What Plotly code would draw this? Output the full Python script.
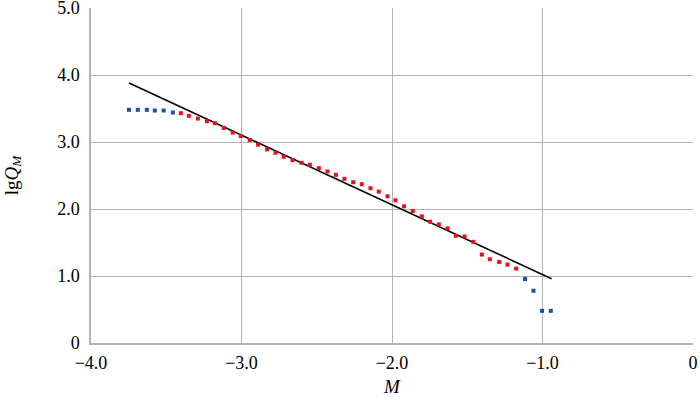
import plotly.graph_objects as go

# Blue points (excluded from fit) - low-magnitude plateau
blue_low_x = [-3.748, -3.689, -3.629, -3.576, -3.517, -3.456]
blue_low_y = [3.48, 3.48, 3.48, 3.47, 3.47, 3.44]

# Red points (fit range)
red_x = [-3.403, -3.350, -3.290, -3.230, -3.177, -3.118, -3.058, -3.005, -2.945, -2.890,
         -2.830, -2.774, -2.719, -2.661, -2.601, -2.546, -2.486, -2.429, -2.373, -2.316,
         -2.258, -2.201, -2.143, -2.088, -2.030, -1.977, -1.920, -1.862, -1.802, -1.747,
         -1.689, -1.631, -1.576, -1.518, -1.461, -1.403, -1.350, -1.288, -1.233, -1.175]
red_y = [3.43, 3.39, 3.35, 3.31, 3.28, 3.21, 3.14, 3.09, 3.03, 2.96,
         2.89, 2.84, 2.78, 2.73, 2.69, 2.66, 2.61, 2.56, 2.51, 2.45,
         2.40, 2.37, 2.31, 2.26, 2.19, 2.13, 2.04, 1.97, 1.89, 1.81,
         1.77, 1.71, 1.60, 1.59, 1.51, 1.32, 1.25, 1.21, 1.17, 1.11]

# Blue points at high magnitude end
blue_high_x = [-1.116, -1.060, -1.003, -0.945]
blue_high_y = [0.955, 0.78, 0.48, 0.48]

# Fitted line endpoints
fit_x = [-3.747, -0.940]
fit_y = [3.88, 0.96]

x_tickvals = [-4, -3, -2, -1, 0]
x_ticktext = ["\u22124.0", "\u22123.0", "\u22122.0", "\u22121.0", "0"]
y_tickvals = [0, 1, 2, 3, 4, 5]
y_ticktext = ["0", "1.0", "2.0", "3.0", "4.0", "5.0"]

RED = "#e8101e"
BLUE = "#1f4ea3"
GRID = "#b3b3b3"
FONT = "Liberation Serif, Times New Roman, Times, serif"

fig = go.Figure()
fig.add_trace(go.Scatter(x=fit_x, y=fit_y, mode="lines",
                         line=dict(color="black", width=1.6), showlegend=False))
fig.add_trace(go.Scatter(x=blue_low_x + blue_high_x, y=blue_low_y + blue_high_y, mode="markers",
                         marker=dict(symbol="square", size=4, color=BLUE), showlegend=False))
fig.add_trace(go.Scatter(x=red_x, y=red_y, mode="markers",
                         marker=dict(symbol="square", size=4, color=RED), showlegend=False))

fig.update_layout(
    width=700, height=397,
    margin=dict(l=91, r=7, t=8, b=54),
    paper_bgcolor="white", plot_bgcolor="white",
    font=dict(family=FONT, size=18, color="black"),
    xaxis=dict(range=[-4, 0], tickvals=x_tickvals, ticktext=x_ticktext,
               showgrid=True, gridcolor=GRID, gridwidth=1,
               showline=True, linecolor=GRID, linewidth=1.5, zeroline=False,
               ticks="", ticklen=0, automargin=False, ticklabeloverflow="allow",
               ticklabelstandoff=3,
               tickfont=dict(family=FONT, size=18, color="black"),
               title=dict(text="<i>M</i>", font=dict(family=FONT, size=19), standoff=8)),
    yaxis=dict(range=[0, 5], tickvals=y_tickvals, ticktext=y_ticktext,
               showgrid=True, gridcolor=GRID, gridwidth=1,
               showline=True, linecolor=GRID, linewidth=1.5, zeroline=False,
               ticks="", ticklen=0, automargin=False, ticklabeloverflow="allow",
               ticklabelstandoff=6,
               tickfont=dict(family=FONT, size=18, color="black"),
               title=dict(text="lg<i>Q</i><sub><i>M</i></sub>", font=dict(family=FONT, size=19), standoff=34)),
)
fig.write_html("out.html", config={"displayModeBar": False},
               post_script="document.body.style.margin='0';document.body.style.overflow='hidden';")
